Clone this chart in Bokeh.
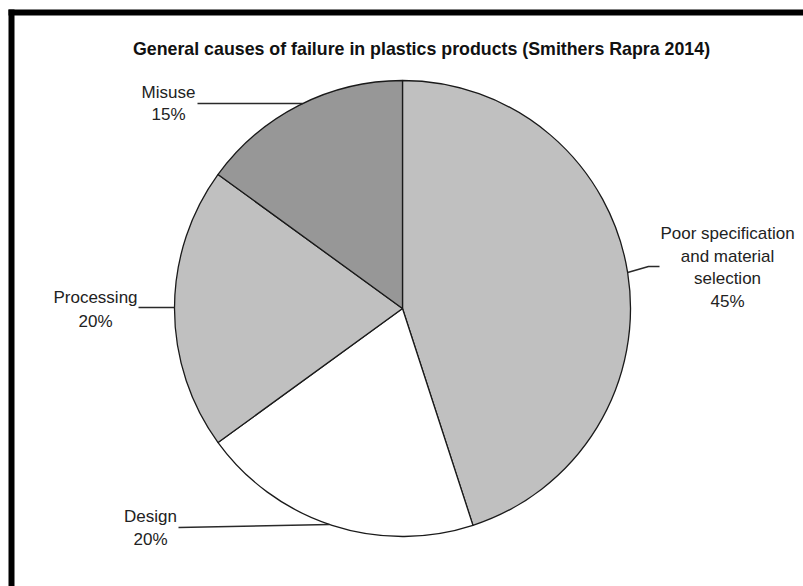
import math
from bokeh.plotting import figure
from bokeh.models import Range1d, ColumnDataSource
from bokeh.core.properties import value
from bokeh.embed import file_html
from bokeh.resources import INLINE

# --- data -------------------------------------------------------------
title = "General causes of failure in plastics products (Smithers Rapra 2014)"
categories = ["Poor specification\nand material\nselection", "Design", "Processing", "Misuse"]
shares = [45, 20, 20, 15]
fills = ["#c0c0c0", "#ffffff", "#c0c0c0", "#979797"]

# --- layout (page pixels, y measured downward) -------------------------
W, H = 803, 586
CX, CY, R = 402, 308, 228
FONT = "Liberation Sans"

# label block: centre x, first-line centre y, line spacing
label_pos = {
    "Poor specification\nand material\nselection": (727, 233, 22.5),
    "Design": (150, 516, 23),
    "Processing": (95, 297, 24),
    "Misuse": (168, 92, 22),
}
# leader lines: outer end point, optional elbow, then the y where it meets the rim
leaders = {
    "Poor specification\nand material\nselection": [(659, 266), (648, 266)],
    "Design": [(178, 527)],
    "Processing": [(138, 307)],
    "Misuse": [(197, 103)],
}
rim_y = {
    "Poor specification\nand material\nselection": (272, 1),
    "Design": (524, -1),
    "Processing": (307, -1),
    "Misuse": (103, -1),
}


def fy(y):
    return H - y


p = figure(width=W, height=H, x_range=Range1d(0, W), y_range=Range1d(0, H),
           output_backend="svg", toolbar_location=None, min_border=0)
p.axis.visible = False
p.grid.visible = False
p.outline_line_color = None
p.background_fill_color = "white"
p.border_fill_color = "white"

# frame: top and left black bands
p.quad(left=[8, 8], right=[W, 14], top=[fy(9), fy(9)], bottom=[fy(15), 0],
       fill_color="black", line_color=None)

# pie slices, clockwise from twelve o'clock
total = sum(shares)
starts, ends = [], []
acc = 0.0
for s in shares:
    a0 = acc / total
    acc += s
    a1 = acc / total
    starts.append(math.pi / 2 - 2 * math.pi * a1)
    ends.append(math.pi / 2 - 2 * math.pi * a0)

src = ColumnDataSource(dict(start=starts, end=ends, fill=fills,
                            x=[CX] * len(shares), y=[fy(CY)] * len(shares)))
p.wedge(x="x", y="y", radius=R, start_angle="start", end_angle="end",
        fill_color="fill", line_color="#1a1a1a", line_width=1.3, source=src)

# leader lines
for cat in categories:
    pts = list(leaders[cat])
    ry, side = rim_y[cat]
    dy = ry - CY
    rx = CX + side * math.sqrt(R * R - dy * dy)
    pts.append((rx, ry))
    p.line([q[0] for q in pts], [fy(q[1]) for q in pts],
           line_color="#2a2a2a", line_width=1.4)

# labels
for cat, s in zip(categories, shares):
    lines = cat.split("\n") + [f"{s}%"]
    x0, y0, dy = label_pos[cat]
    p.text(x=[x0] * len(lines), y=[fy(y0 + i * dy) for i in range(len(lines))],
           text=lines, text_font=value(FONT), text_font_size="17px",
           text_align="center", text_baseline="middle", text_color="#222222")

# title
p.text(x=[421], y=[fy(48)], text=[title], text_font=value(FONT),
       text_font_size="17.8px", text_font_style="bold",
       text_align="center", text_baseline="middle", text_color="#111111")

open("out.html", "w").write(file_html(p, INLINE))
